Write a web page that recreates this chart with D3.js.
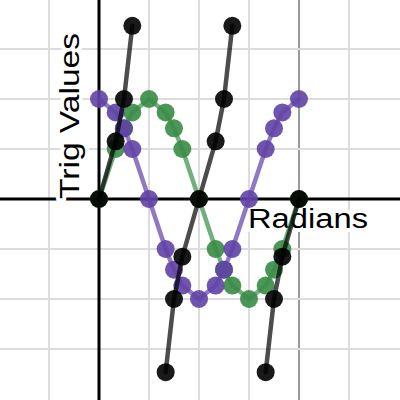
<!DOCTYPE html>
<html>
<head>
<meta charset="utf-8">
<script src="https://cdn.jsdelivr.net/npm/d3@7/dist/d3.min.js"></script>
<style>
  html, body { margin: 0; padding: 0; background: #fff; }
  svg { display: block; }
</style>
</head>
<body>
<script>
// Angles (radians) of the plotted points
const angles = [0, 0.524, 0.785, 1.047, 1.571, 2.094, 2.356, 2.618, 3.142,
                3.665, 3.927, 4.189, 4.712, 5.236, 5.498, 5.760, 6.283];
// Series values
const sinValues = [0, 0.5, 0.707, 0.866, 1, 0.866, 0.707, 0.5, 0,
                   -0.5, -0.707, -0.866, -1, -0.866, -0.707, -0.5, 0];
const cosValues = [1, 0.866, 0.707, 0.5, 0, -0.5, -0.707, -0.866, -1,
                   -0.866, -0.707, -0.5, 0, 0.5, 0.707, 0.866, 1];
const tanValues = [0, 0.577, 1, 1.732, null, -1.732, -1, -0.577, 0,
                   0.577, 1, 1.732, null, -1.732, -1, -0.577, 0];
const seriesNames = ["sin", "cos", "tan"];
const seriesColors = ["#388c46", "#6042a6", "#000000"];
const xLabel = "Radians";
const yLabel = "Trig Values";
// Grid positions (in data units)
const xGrid = [-1.571, 1.571, 3.142, 4.712, 6.283, 7.854];
const yGrid = [-1.5, -1, -0.5, 0.5, 1, 1.5];

const W = 400, H = 400;
const x = d3.scaleLinear().domain([-Math.PI, 3 * Math.PI]).range([-1, 399]);
const y = d3.scaleLinear().domain([-2, 2]).range([399, -1]);

const svg = d3.select("body").append("svg").attr("width", W).attr("height", H);
svg.append("rect").attr("width", W).attr("height", H).attr("fill", "#fff");

// grid
svg.append("g").selectAll("line").data(xGrid).join("line")
  .attr("x1", d => x(d)).attr("x2", d => x(d)).attr("y1", 0).attr("y2", H)
  .attr("stroke", d => Math.abs(d - 6.283) < 0.01 ? "#9a9a9a" : "#dcdcdc")
  .attr("stroke-width", 2);
svg.append("g").selectAll("line").data(yGrid).join("line")
  .attr("y1", d => y(d)).attr("y2", d => y(d)).attr("x1", 0).attr("x2", W)
  .attr("stroke", "#dcdcdc").attr("stroke-width", 2);

// axes
svg.append("line").attr("x1", 0).attr("x2", W).attr("y1", y(0)).attr("y2", y(0))
  .attr("stroke", "#000").attr("stroke-width", 3);
svg.append("line").attr("x1", x(0)).attr("x2", x(0)).attr("y1", 0).attr("y2", H)
  .attr("stroke", "#000").attr("stroke-width", 3);

// axis labels with white halo
const font = "'Liberation Sans', Arial, Helvetica, sans-serif";
svg.append("text").text(xLabel)
  .attr("x", 248).attr("y", 228)
  .attr("font-family", font).attr("font-size", 27)
  .attr("textLength", 120).attr("lengthAdjust", "spacingAndGlyphs")
  .attr("fill", "#000").attr("stroke", "#fff").attr("stroke-width", 8)
  .attr("stroke-linejoin", "round").attr("paint-order", "stroke");
svg.append("text").text(yLabel)
  .attr("transform", "translate(79,199) rotate(-90)")
  .attr("font-family", font).attr("font-size", 27)
  .attr("textLength", 166).attr("lengthAdjust", "spacingAndGlyphs")
  .attr("fill", "#000").attr("stroke", "#fff").attr("stroke-width", 8)
  .attr("stroke-linejoin", "round").attr("paint-order", "stroke");

// series
const allValues = [sinValues, cosValues, tanValues];
const line = d3.line()
  .defined(d => d.v !== null)
  .x(d => x(d.a)).y(d => y(d.v));

allValues.forEach((vals, i) => {
  const data = angles.map((a, j) => ({ a, v: vals[j] }));
  const g = svg.append("g").attr("class", seriesNames[i]);
  g.append("path").datum(data).attr("d", line)
    .attr("fill", "none").attr("stroke", seriesColors[i])
    .attr("stroke-width", 4.5).attr("stroke-opacity", 0.7)
    .attr("stroke-linejoin", "round").attr("stroke-linecap", "round");
  g.selectAll("circle").data(data.filter(d => d.v !== null)).join("circle")
    .attr("cx", d => x(d.a)).attr("cy", d => y(d.v)).attr("r", 9)
    .attr("fill", seriesColors[i]).attr("fill-opacity", 0.9);
});
</script>
</body>
</html>
